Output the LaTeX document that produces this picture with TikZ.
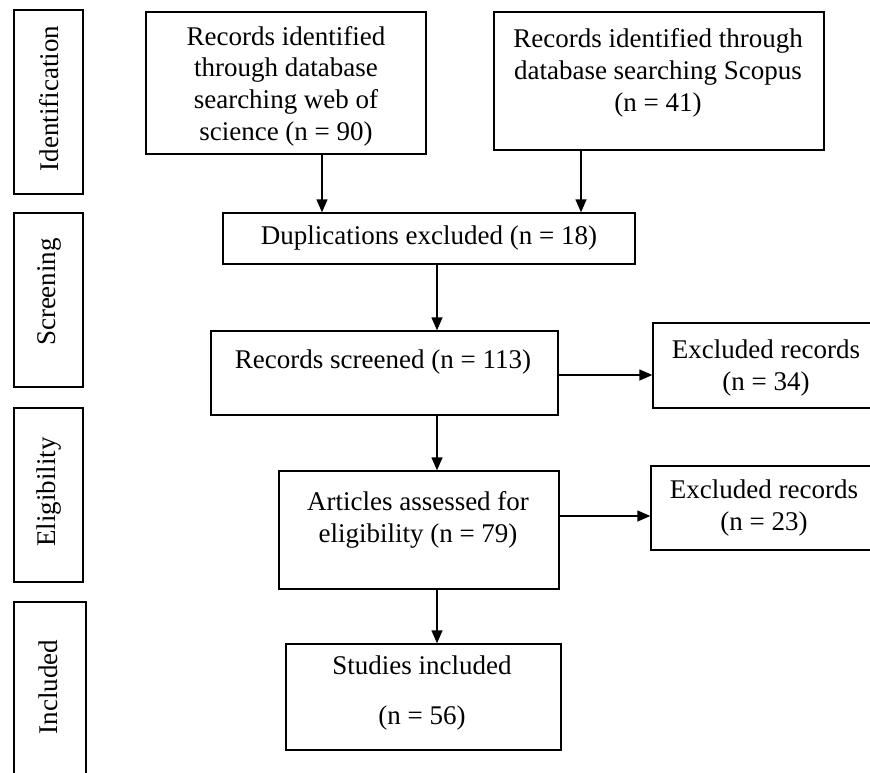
\documentclass[tikz,border=0pt]{standalone}
\usepackage{fontspec}
\setmainfont{Liberation Serif}
\usetikzlibrary{arrows.meta}
\begin{document}
\begin{tikzpicture}[x=1pt,y=-1pt,
  box/.style={draw=black,line width=1.4pt,inner sep=0pt,minimum width=#1},
  lbl/.style={font=\fontsize{27}{31.7}\selectfont,align=center,inner sep=0pt},
  side/.style={font=\fontsize{27}{31.7}\selectfont,rotate=90,inner sep=0pt},
  arr/.style={line width=1.4pt,-{Triangle[length=13pt,width=11pt]}}]
\fill[white] (0,0) rectangle (870,773);
\useasboundingbox (0,0) rectangle (870,773);
\clip (0,0) rectangle (870,773);
% side stage boxes
\draw[line width=1.4pt] (14,10) rectangle (83,194);
\node[side] (sid) at (49,98.5) {Identification};
\draw[line width=1.4pt] (14,213) rectangle (83,387);
\node[side] (ssc) at (49,292) {Screening};
\draw[line width=1.4pt] (14,408) rectangle (83,582);
\node[side] (sel) at (49,492) {Eligibility};
\draw[line width=1.4pt] (14,800) -- (14,602) -- (86,602) -- (86,800);
\node[side] (sin) at (48,687) {Included};
% main boxes
\node[box=280pt,minimum height=142pt] (A) at (286,83) {};
\node[lbl] (At) at (286,86) {Records identified\\through database\\searching web of\\science (n = 90)};
\node[box=330pt,minimum height=138pt] (B) at (659,81) {};
\node[lbl] (Bt) at (658,73) {Records identified through\\database searching Scopus\\(n = 41)};
\node[box=412pt,minimum height=51pt] (dup) at (429,238.5) {};
\node[lbl] (dupt) at (429,238.5) {Duplications excluded (n = 18)};
\node[box=347pt,minimum height=84pt] (scr) at (384.5,373) {};
\node[lbl] (scrt) at (383,362) {Records screened (n = 113)};
\node[box=260pt,minimum height=85pt] (ex34) at (783,365.5) {};
\node[lbl] (ex34t) at (766,368) {Excluded records\\(n = 34)};
\node[box=280pt,minimum height=118pt] (art) at (419,530) {};
\node[lbl] (artt) at (418,520) {Articles assessed for\\eligibility (n = 79)};
\node[box=260pt,minimum height=84pt] (ex23) at (781,508) {};
\node[lbl] (ex23t) at (764,508) {Excluded records\\(n = 23)};
\node[box=275pt,minimum height=106pt] (stu) at (423.5,697) {};
\node[lbl] (stut) at (422,693) {Studies included\\[18pt](n = 56)};
% connectors
\coordinate (spine) at (437,0);
\draw[arr] ([xshift=36pt]A.south) -- ([xshift=36pt]A.south |- dup.north);
\draw[arr] ([xshift=-78pt]B.south) -- ([xshift=-78pt]B.south |- dup.north);
\draw[arr] (dup.south -| spine) -- (scr.north -| spine);
\draw[arr] (scr.south -| spine) -- (art.north -| spine);
\draw[arr] (art.south -| spine) -- (stu.north -| spine);
\draw[arr] ([yshift=-2pt]scr.east) -- ([yshift=-2pt]scr.east -| ex34.west);
\draw[arr] ([yshift=14pt]art.east) -- ([yshift=14pt]art.east -| ex23.west);
\end{tikzpicture}
\end{document}
